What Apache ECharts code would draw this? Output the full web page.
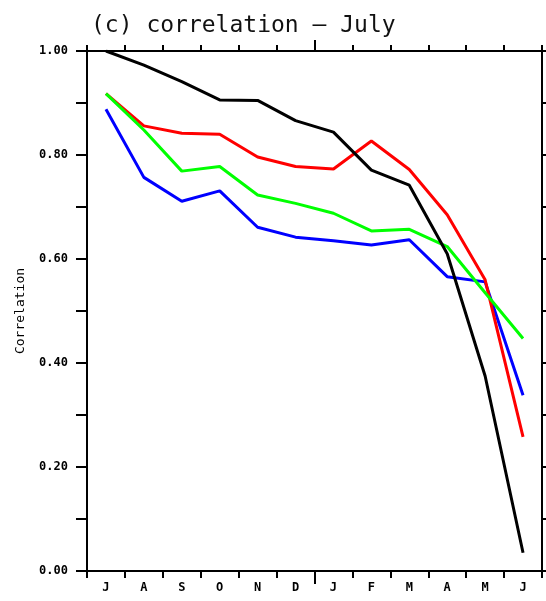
<!DOCTYPE html>
<html>
<head>
<meta charset="utf-8">
<script src="https://cdn.jsdelivr.net/npm/echarts@6/dist/echarts.min.js"></script>
<style>html,body{margin:0;padding:0;background:#fff}#c{width:546px;height:601px}</style>
</head>
<body>
<div id="c"></div>
<script>
var months = ['J','A','S','O','N','D','J','F','M','A','M','J'];
var yTicks = [0, 0.2, 0.4, 0.6, 0.8, 1.0];
var blackVals = [1.00, 0.973, 0.941, 0.906, 0.905, 0.866, 0.844, 0.771, 0.742, 0.61, 0.375, 0.035];
var redVals   = [0.918, 0.856, 0.842, 0.840, 0.796, 0.778, 0.773, 0.827, 0.772, 0.685, 0.56, 0.258];
var greenVals = [0.918, 0.848, 0.769, 0.778, 0.723, 0.707, 0.688, 0.654, 0.657, 0.624, 0.535, 0.447];
var blueVals  = [0.888, 0.757, 0.711, 0.731, 0.661, 0.642, 0.635, 0.627, 0.637, 0.566, 0.556, 0.338];

var chart = echarts.init(document.getElementById('c'));
var mono = 'DejaVu Sans Mono';
function line(name, data, color) {
  return {name: name, type: 'line', data: data, symbol: 'none',
    lineStyle: {color: color, width: 3}, itemStyle: {color: color}, animation: false};
}
var axLine = {show: true, onZero: false, lineStyle: {color: '#000', width: 2}};
chart.setOption({
  animation: false,
  title: {text: '(c) correlation \u2014 July', left: 86, top: 10,
    textStyle: {fontFamily: mono, fontSize: 23, fontWeight: 'normal', color: '#111'}},
  grid: {left: 87, right: 4, top: 51, bottom: 30, containLabel: false},
  xAxis: [
    {type: 'category', data: months, boundaryGap: true, position: 'bottom',
      axisLine: axLine,
      axisTick: {show: true, interval: 0, length: 7, inside: false, lineStyle: {color: '#000', width: 2}},
      axisLabel: {interval: 0, margin: 11, color: '#000', fontFamily: mono, fontSize: 12, fontWeight: 'bold'}},
    {type: 'category', data: months, boundaryGap: true, position: 'top',
      axisLine: axLine,
      axisTick: {show: true, interval: 0, length: 6, inside: false, lineStyle: {color: '#000', width: 2}},
      axisLabel: {show: false}},
    {type: 'value', min: 0, max: 12, position: 'bottom',
      axisLine: {show: false, onZero: false}, splitLine: {show: false},
      axisTick: {show: true, customValues: [6], length: 13, lineStyle: {color: '#000', width: 2}},
      axisLabel: {show: false}},
    {type: 'value', min: 0, max: 12, position: 'top',
      axisLine: {show: false, onZero: false}, splitLine: {show: false},
      axisTick: {show: true, customValues: [6], length: 11, lineStyle: {color: '#000', width: 2}},
      axisLabel: {show: false}}
  ],
  yAxis: [
    {type: 'value', min: 0, max: 1, interval: 0.1, position: 'left',
      name: 'Correlation', nameLocation: 'middle', nameGap: 60, nameRotate: 90,
      nameTextStyle: {fontFamily: mono, fontSize: 13, color: '#000'},
      axisLine: axLine,
      axisTick: {show: true, length: 11, inside: false, lineStyle: {color: '#000', width: 2}},
      splitLine: {show: false},
      axisLabel: {margin: 19, color: '#000', fontFamily: mono, fontSize: 12, fontWeight: 'bold',
        formatter: function (v) {
          for (var i = 0; i < yTicks.length; i++) if (Math.abs(v - yTicks[i]) < 1e-6) return yTicks[i].toFixed(2);
          return '';
        }}},
    {type: 'value', min: 0, max: 1, interval: 0.1, position: 'right',
      axisLine: axLine,
      axisTick: {show: true, length: 6, inside: false, lineStyle: {color: '#000', width: 2}},
      splitLine: {show: false}, axisLabel: {show: false}}
  ],
  series: [
    line('blue', blueVals, '#0000ff'),
    line('red', redVals, '#ff0000'),
    line('green', greenVals, '#00ff00'),
    line('black', blackVals, '#000000')
  ]
});
</script>
</body>
</html>
